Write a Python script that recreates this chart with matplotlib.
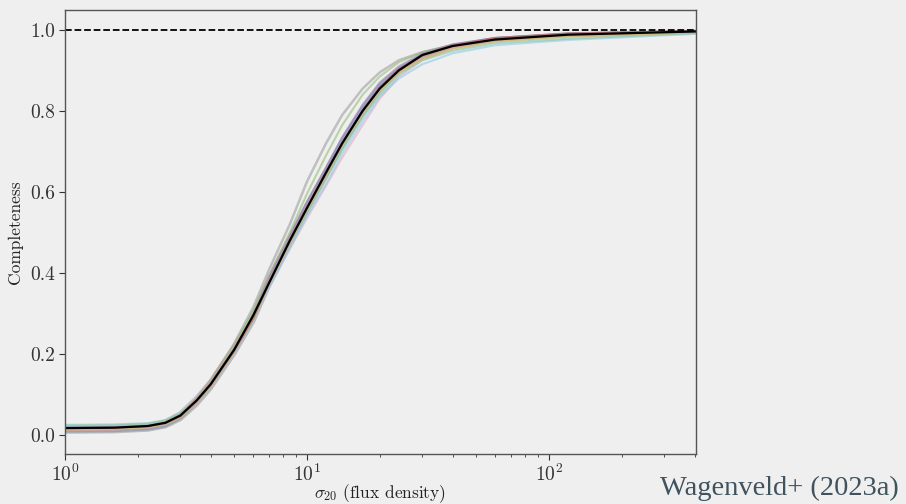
import matplotlib
matplotlib.use("Agg")
import matplotlib.pyplot as plt

plt.rcParams['font.family'] = 'serif'
plt.rcParams['font.serif'] = ['cmr10']
plt.rcParams['mathtext.fontset'] = 'cm'
plt.rcParams['axes.formatter.use_mathtext'] = True

# sigma_20 grid
sigma = [1, 1.6, 2.2, 2.6, 3, 3.5, 4, 5, 6, 7, 8.5, 10, 12, 14, 17, 20, 24, 30, 40, 60, 120, 405]

# mean completeness
mean_comp = [0.017, 0.018, 0.022, 0.030, 0.048, 0.085, 0.125, 0.21, 0.295, 0.377, 0.48,
             0.56, 0.648, 0.72, 0.80, 0.855, 0.90, 0.938, 0.96, 0.976, 0.988, 0.996]

# individual realisations
real_grey1 = [0.015, 0.016, 0.021, 0.03, 0.05, 0.09, 0.135, 0.225, 0.315, 0.41, 0.52, 0.625, 0.72, 0.79, 0.855, 0.895, 0.925, 0.945, 0.962, 0.976, 0.988, 0.996]
real_green = [0.018, 0.019, 0.023, 0.031, 0.05, 0.088, 0.13, 0.22, 0.305, 0.395, 0.5, 0.595, 0.69, 0.765, 0.84, 0.885, 0.92, 0.945, 0.962, 0.977, 0.988, 0.996]
real_pink = [0.016, 0.017, 0.02, 0.027, 0.044, 0.078, 0.117, 0.2, 0.28, 0.365, 0.46, 0.535, 0.615, 0.685, 0.765, 0.83, 0.885, 0.925, 0.955, 0.975, 0.986, 0.995]
real_lblue = [0.02, 0.021, 0.024, 0.031, 0.047, 0.08, 0.118, 0.2, 0.28, 0.365, 0.46, 0.54, 0.62, 0.695, 0.775, 0.835, 0.88, 0.915, 0.942, 0.962, 0.975, 0.99]
real_teal = [0.025, 0.026, 0.029, 0.036, 0.053, 0.088, 0.127, 0.21, 0.288, 0.375, 0.475, 0.55, 0.635, 0.705, 0.785, 0.84, 0.89, 0.925, 0.948, 0.967, 0.978, 0.992]
real_salmon = [0.012, 0.013, 0.018, 0.028, 0.048, 0.088, 0.13, 0.215, 0.295, 0.385, 0.485, 0.565, 0.65, 0.72, 0.795, 0.85, 0.895, 0.93, 0.955, 0.972, 0.984, 0.994]
real_olive = [0.014, 0.015, 0.019, 0.026, 0.043, 0.08, 0.12, 0.205, 0.285, 0.375, 0.475, 0.555, 0.64, 0.715, 0.795, 0.85, 0.895, 0.928, 0.952, 0.971, 0.983, 0.993]
real_purple = [0.018, 0.019, 0.023, 0.031, 0.05, 0.087, 0.127, 0.212, 0.295, 0.39, 0.49, 0.575, 0.66, 0.735, 0.815, 0.87, 0.91, 0.942, 0.964, 0.98, 0.99, 0.997]
real_slate = [0.01, 0.011, 0.015, 0.023, 0.042, 0.08, 0.12, 0.207, 0.29, 0.385, 0.485, 0.57, 0.655, 0.73, 0.81, 0.865, 0.905, 0.938, 0.962, 0.978, 0.989, 0.996]
real_grey2 = [0.02, 0.021, 0.025, 0.034, 0.054, 0.092, 0.133, 0.218, 0.3, 0.39, 0.49, 0.57, 0.655, 0.728, 0.805, 0.86, 0.902, 0.935, 0.958, 0.976, 0.987, 0.995]
real_red = [0.017, 0.018, 0.022, 0.029, 0.046, 0.083, 0.123, 0.207, 0.287, 0.378, 0.478, 0.56, 0.645, 0.72, 0.8, 0.858, 0.903, 0.937, 0.962, 0.98, 0.991, 0.997]
real_grey3 = [0.008, 0.009, 0.013, 0.021, 0.039, 0.075, 0.115, 0.2, 0.28, 0.372, 0.472, 0.552, 0.638, 0.712, 0.792, 0.85, 0.898, 0.933, 0.958, 0.977, 0.989, 0.995]

realisations = [
    (real_grey3, '#9a9a9a', 3.0),
    (real_grey2, '#a8a8a8', 3.0),
    (real_slate, '#7f93b8', 2.5),
    (real_grey1, '#a0a0a0', 1.8),
    (real_green, '#95bf74', 1.5),
    (real_pink, '#e6a8c8', 1.5),
    (real_lblue, '#8fcbe0', 1.5),
    (real_teal, '#7cc8b0', 1.5),
    (real_salmon, '#f0a088', 1.5),
    (real_olive, '#c9c36a', 1.5),
    (real_purple, '#a287bd', 1.5),
    (real_red, '#c06060', 1.5),
]

bg = '#efefef'
fig = plt.figure(figsize=(9.06, 5.04), dpi=100, facecolor=bg)
ax = fig.add_axes([0.0717, 0.0992, 0.6963, 0.8810])
ax.set_facecolor(bg)

for vals, col, lw in realisations:
    ax.plot(sigma, vals, color=col, lw=lw, alpha=0.6)

ax.plot(sigma, mean_comp, color='black', lw=1.6)
ax.axhline(1.0, color='black', ls='--', lw=1.3)

ax.set_xscale('log')
ax.set_xlim(1, 405)
ax.set_ylim(-0.047, 1.049)
ax.set_yticks([0.0, 0.2, 0.4, 0.6, 0.8, 1.0])
ax.set_yticklabels(['0.0', '0.2', '0.4', '0.6', '0.8', '1.0'])

for s in ax.spines.values():
    s.set_color('#555555')
    s.set_linewidth(1.0)
ax.tick_params(which='both', colors='#333333', labelsize=14)
ax.tick_params(which='major', length=4, pad=3)
ax.tick_params(which='minor', length=2.5)

ax.set_xlabel(r'$\sigma_{20}$ (flux density)', fontsize=12.5, color='#222222', labelpad=-2)
ax.set_ylabel('Completeness', fontsize=12.5, color='#222222', labelpad=5)

fig.text(0.992, 0.018, 'Wagenveld+ (2023a)', ha='right', va='baseline',
         fontsize=20.5, color='#3f525e', family='Liberation Serif')

fig.savefig('out.png', dpi=100, facecolor=bg)
